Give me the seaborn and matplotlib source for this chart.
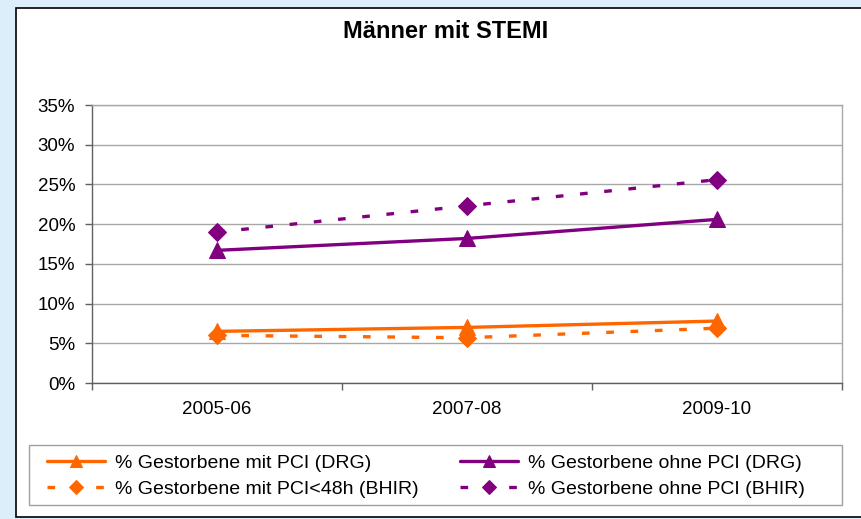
import matplotlib
matplotlib.use("Agg")
import matplotlib.pyplot as plt
import seaborn as sns
from matplotlib.patches import Rectangle
from matplotlib.ticker import FixedLocator, FuncFormatter

# data (percent)
periods = ["2005-06", "2007-08", "2009-10"]
mit_pci_drg = [6.5, 7.0, 7.8]
ohne_pci_drg = [16.7, 18.2, 20.6]
mit_pci48_bhir = [6.0, 5.7, 6.9]
ohne_pci_bhir = [19.0, 22.3, 25.6]

labels = [
    "% Gestorbene mit PCI (DRG)",
    "% Gestorbene ohne PCI (DRG)",
    "% Gestorbene mit PCI<48h (BHIR)",
    "% Gestorbene ohne PCI (BHIR)",
]

sns.set_theme(style="white")
plt.rcParams["font.family"] = ["Liberation Sans", "DejaVu Sans"]
plt.rcParams["text.color"] = "black"

orange = "#ff6600"
purple = "#800080"

fig = plt.figure(figsize=(8.62, 5.19), dpi=100)
fig.patch.set_facecolor("#ddeefb")
# white chart frame
frame = Rectangle((16 / 862, 0.003), 1.0, 1 - 8 / 519 - 0.003,
                  transform=fig.transFigure, facecolor="white",
                  edgecolor="black", linewidth=1.2, zorder=-5)
fig.patches.append(frame)

ax = fig.add_axes([92 / 862, 136 / 519, 750 / 862, 278 / 519])
ax.set_facecolor("white")

dash = (0, (2.3, 5.0))
series = [
    (mit_pci_drg, orange, "-", "^", labels[0]),
    (ohne_pci_drg, purple, "-", "^", labels[1]),
    (mit_pci48_bhir, orange, dash, "D", labels[2]),
    (ohne_pci_bhir, purple, dash, "D", labels[3]),
]
for vals, col, ls, mk, lab in series:
    sns.lineplot(x=periods, y=vals, ax=ax, color=col, linestyle=ls, marker=mk,
                 markersize=11 if mk == "^" else 9.5, markeredgecolor=col,
                 linewidth=2.4, label=lab, legend=False, sort=False)

ax.set_xlim(-0.5, 2.5)
ax.set_ylim(0, 35)
ax.yaxis.set_major_locator(FixedLocator(range(0, 36, 5)))
ax.yaxis.set_major_formatter(FuncFormatter(lambda v, p: f"{v:.0f}%"))
ax.yaxis.grid(True, color="#a8a8a8", linewidth=1.0)
ax.set_axisbelow(True)

ax.set_xticks([0, 1, 2])
ax.set_xticklabels(periods)
ax.xaxis.set_minor_locator(FixedLocator([-0.5, 0.5, 1.5, 2.5]))
ax.tick_params(axis="x", which="major", length=0, pad=13, labelsize=13.5, labelcolor="black")
ax.tick_params(axis="x", which="minor", length=5, width=1, color="#606060", direction="out")
ax.tick_params(axis="y", which="major", length=5, width=1, color="#606060",
               direction="out", labelsize=13.5, pad=7, labelcolor="black")
ax.tick_params(left=True, which="major")
ax.tick_params(bottom=True, which="minor")

for side in ["top", "right"]:
    ax.spines[side].set_color("#a8a8a8")
    ax.spines[side].set_linewidth(1.0)
for side in ["left", "bottom"]:
    ax.spines[side].set_color("#606060")
    ax.spines[side].set_linewidth(1.0)
ax.set_xlabel("")
ax.set_ylabel("")

fig.text(446 / 862, 1 - 31 / 519, "Männer mit STEMI", ha="center", va="center",
         fontsize=17, fontweight="bold", color="black")

# legend box drawn separately so the horizontal padding can match
fig.patches.append(Rectangle((29 / 862, 1 - 505 / 519), 813 / 862, 60 / 519,
                             transform=fig.transFigure, facecolor="white",
                             edgecolor="#a0a0a0", linewidth=1.0, zorder=-1))

handles, labs = ax.get_legend_handles_labels()
order = [0, 2, 1, 3]  # row-wise like the reference
leg = fig.legend([handles[i] for i in order], [labs[i] for i in order], ncol=2,
                 loc="center left", bbox_to_anchor=(47 / 862, 1 - 476 / 519),
                 frameon=False, fontsize=14, borderpad=0, borderaxespad=0,
                 handlelength=3.0, handletextpad=0.5, columnspacing=2.1,
                 labelspacing=0.45, labelcolor="black", markerscale=0.75)

fig.savefig("out.png", dpi=100, facecolor=fig.get_facecolor())
